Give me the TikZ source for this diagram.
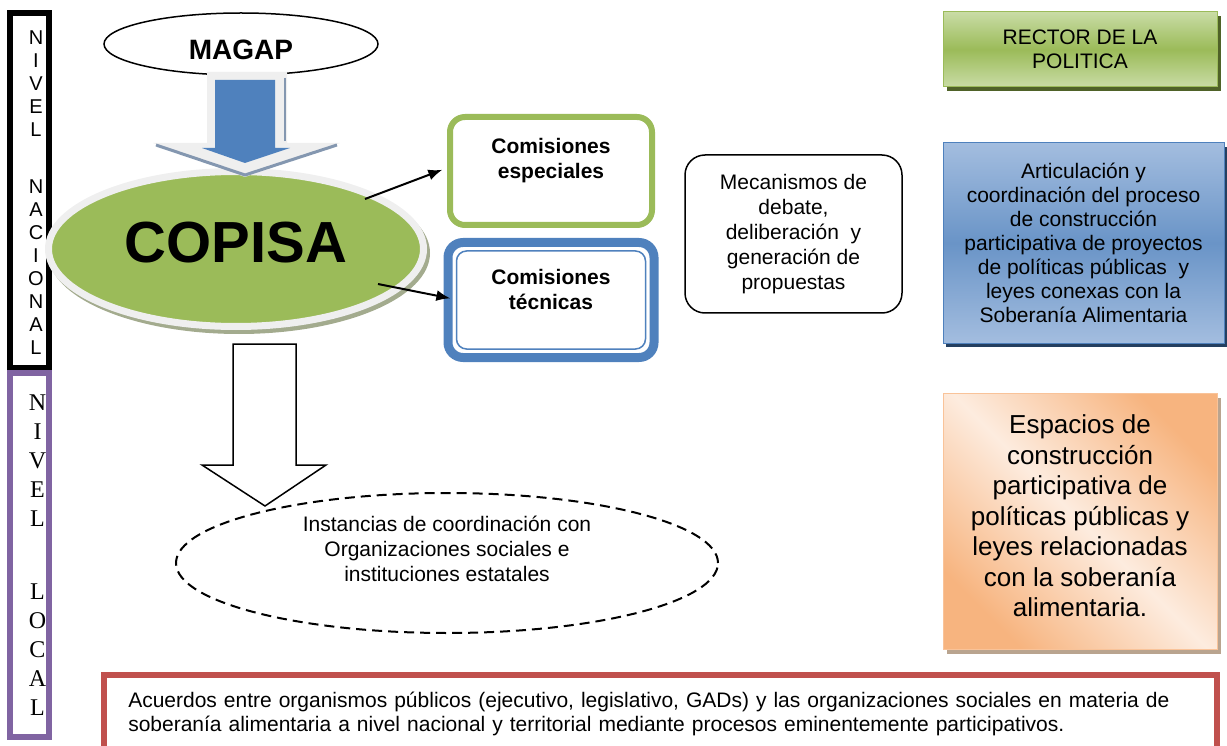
\documentclass[tikz,border=0pt]{standalone}
\usepackage{fontspec}
\setmainfont{Liberation Sans}
\newfontfamily\timesfont{Liberation Serif}
\usetikzlibrary{shapes.geometric,arrows.meta,shadows,positioning}

\definecolor{verdeoffice}{HTML}{9BBB59}
\definecolor{verdeclaro}{HTML}{C9DCA5}
\definecolor{verdeoscuro}{HTML}{4F6228}
\definecolor{azuloffice}{HTML}{4F81BD}
\definecolor{azulclaro}{HTML}{A3BDDF}
\definecolor{azuloscuro}{HTML}{243F60}
\definecolor{moradooffice}{HTML}{8064A2}
\definecolor{rojooffice}{HTML}{C0504D}
\definecolor{naranja}{HTML}{F7B47F}
\definecolor{naranjaclaro}{HTML}{FDECDF}
\definecolor{sombranaranja}{HTML}{B9A48F}
\definecolor{pizarra}{HTML}{8497B0}
\definecolor{grisborde}{HTML}{EFEFEF}
\definecolor{copisasombra}{HTML}{A3AB8E}

\begin{document}
\begin{tikzpicture}
	[
		x=1pt, y=-1pt,
		every node/.style = {align=center, font=\fontsize{21pt}{24pt}\selectfont},
		marconac/.style = {draw=black, line width=6pt},
		marcoloc/.style = {draw=moradooffice, line width=6pt},
		letranac/.style = {font=\fontsize{20pt}{23pt}\selectfont},
		letraloc/.style = {font=\timesfont\fontsize{24pt}{29pt}\selectfont},
		magap/.style = {ellipse, draw, line width=1.5pt, fill=white, minimum width=274pt, minimum height=62pt,
			font=\bfseries\fontsize{28pt}{30pt}\selectfont, text height=32pt, text depth=0pt},
		copisa/.style = {ellipse, fill=verdeoffice, draw=grisborde, line width=7pt, minimum width=375pt, minimum height=155pt,
			font=\bfseries\fontsize{58pt}{60pt}\selectfont, text height=41.5pt, text depth=14pt},
		especial/.style = {rectangle, rounded corners=15pt, draw=verdeoffice, line width=6pt, fill=white,
			minimum width=202pt, minimum height=108pt, font=\bfseries\fontsize{21pt}{25pt}\selectfont},
		tecnica/.style = {especial, draw=azuloffice, line width=9pt, minimum width=206pt, minimum height=115pt},
		mecanismo/.style = {rectangle, rounded corners=20pt, draw, line width=1.5pt, minimum width=217pt, minimum height=158pt,
			font=\fontsize{21pt}{25pt}\selectfont},
		instancia/.style = {ellipse, draw, line width=2pt, dash pattern=on 10pt off 6pt, minimum width=542pt, minimum height=140pt,
			inner sep=0pt, font=\fontsize{21pt}{25pt}\selectfont},
		rector/.style = {rectangle, draw=verdeoffice, line width=1pt, top color=verdeclaro, bottom color=verdeclaro,
			middle color=verdeoffice, minimum width=274pt, minimum height=75pt,
			drop shadow={shadow xshift=4pt, shadow yshift=-4pt, fill=verdeoscuro, opacity=1}},
		articula/.style = {rectangle, draw=azuloffice, line width=1pt, top color=azulclaro, bottom color=azulclaro,
			middle color=azuloffice!85!white, minimum width=281pt, minimum height=200pt,
			drop shadow={shadow xshift=3pt, shadow yshift=-4pt, fill=azuloscuro, opacity=1}},
		espacio/.style = {rectangle, draw=naranja!80!white, line width=1pt, top color=naranja, bottom color=naranja,
			middle color=naranjaclaro, shading angle=-45, minimum width=274pt, minimum height=256pt,
			font=\fontsize{26pt}{30.5pt}\selectfont,
			drop shadow={shadow xshift=4pt, shadow yshift=-5pt, fill=sombranaranja, opacity=1}},
		acuerdo/.style = {rectangle, draw=rojooffice, line width=6pt, fill=white, minimum width=1112.5pt, minimum height=77pt,
			text width=1064pt, align=left},
		flecha/.style = {line width=2pt, -{Latex[length=14pt, width=11pt]}},
	]

	\useasboundingbox (0,0) rectangle (1227,746);

	\draw[marconac] (10,13) rectangle (49,368);
	\draw[marcoloc] (10,373) rectangle (49,737);
	\node[letranac] (nacional) at (36,193) {N\\I\\V\\E\\L\\[34pt]N\\A\\C\\I\\O\\N\\A\\L};
	\node[letraloc] (local) at (37.5,555.5) {N\\I\\V\\E\\L\\[44pt]L\\O\\C\\A\\L};

	\node[magap] (magap) at (241,44) {MAGAP};

	\fill[copisasombra] (239,253) ellipse [x radius=191pt, y radius=81pt];
	\node[copisa] (copisa) at (236,249) {COPISA};

	\fill[grisborde] (207,72) -- (287,72) -- (287,143) -- (340,143) -- (245,177) -- (153,143) -- (207,143) -- cycle;
	\draw[pizarra, line width=3pt] (156,145) -- (245,175) -- (337,145);
	\draw[pizarra, line width=2pt] (285,78) -- (285,141);
	\fill[azuloffice] (215,80) -- (275,80) -- (275,148) -- (290,148) -- (245,163) -- (202,148) -- (215,148) -- cycle;

	\draw[line width=1.5pt, fill=white] (233,344) -- (296,344) -- (296,465) -- (326,465) -- (265,506) -- (202,465) -- (233,465) -- cycle;
	\node[instancia] (instancias) at (447,563) {Instancias de coordinación con\\Organizaciones sociales e\\instituciones estatales\\[4pt] \mbox{}};

	\node[especial] (esp) at (551,171) {Comisiones\\especiales\\ \mbox{}};
	\node[tecnica, below=10pt of esp] (tec) {Comisiones\\técnicas\\[-4pt] \mbox{}};
	\draw[azuloffice, line width=1.5pt, rounded corners=10pt] ([shift={(13,13)}]tec.north west) rectangle ([shift={(-13,-13)}]tec.south east);

	\node[mecanismo] (meca) at (793.5,234) {Mecanismos de\\debate,\\deliberación~ y\\generación de\\propuestas};

	\node[rector] (rector) at (1080,49.5) {RECTOR DE LA\\POLITICA};
	\node[articula] (articula) at (1083.5,243) {Articulación y\\coordinación del proceso\\de construcción\\participativa de proyectos\\de políticas públicas~ y\\leyes conexas con la\\Soberanía Alimentaria};
	\node[espacio] (espacios) at (1080,521) {Espacios de\\construcción\\participativa de\\políticas públicas y\\leyes relacionadas\\con la soberanía\\alimentaria.\\[-20pt] \mbox{}};

	\node[acuerdo] (acuerdos) at (660.25,713.5) {Acuerdos entre organismos públicos (ejecutivo, legislativo, GADs) y las organizaciones sociales en materia de\\soberanía alimentaria a nivel nacional y territorial mediante procesos eminentemente participativos.};

	\coordinate (salida1) at (365,199);
	\coordinate (salida2) at (378,284);
	\draw[flecha, shorten >=5pt] (salida1) -- ([yshift=3pt]esp.west);
	\draw[flecha, shorten >=-7pt] (salida2) -- ([yshift=3pt]tec.west);

\end{tikzpicture}
\end{document}
